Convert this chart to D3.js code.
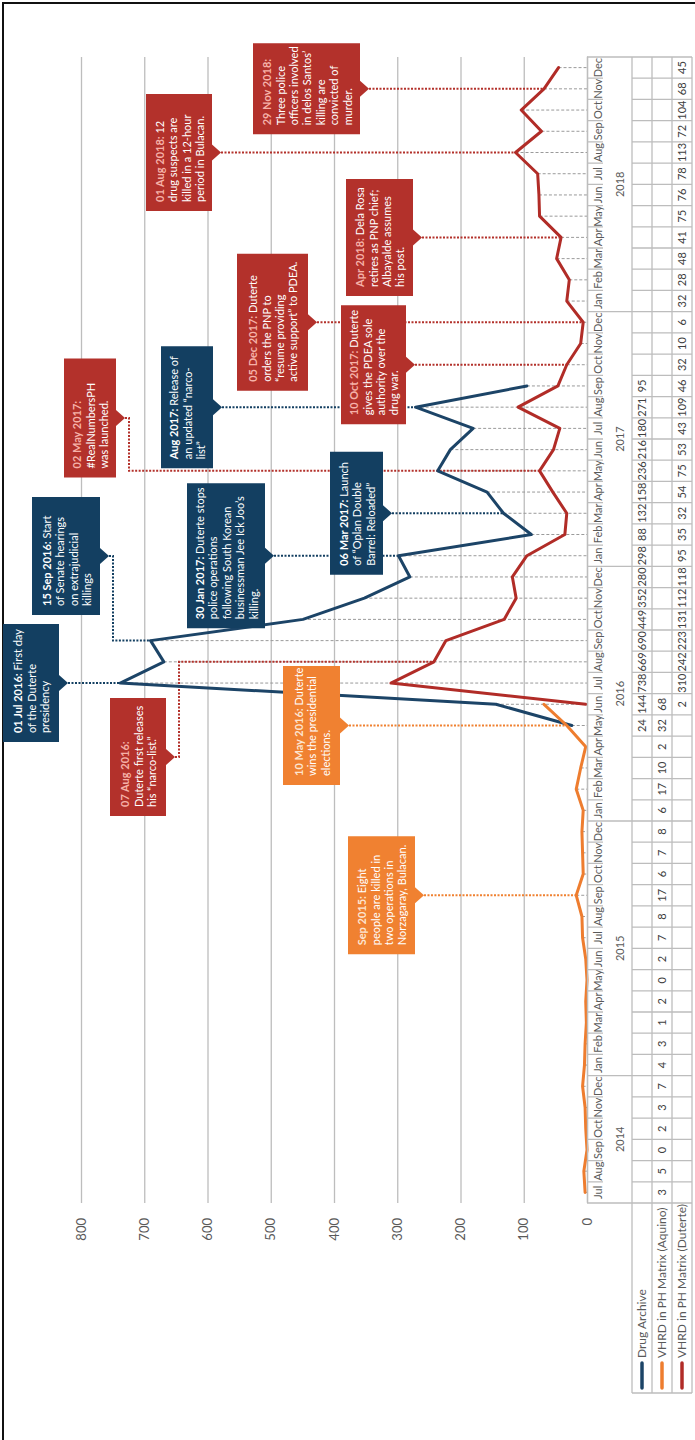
<!DOCTYPE html>
<html>
<head>
<meta charset="utf-8">
<script src="https://cdn.jsdelivr.net/npm/d3@7"></script>
<style>
  html, body { margin: 0; padding: 0; background: #fff; }
  svg { display: block; font-family: Lato, 'Open Sans', sans-serif; }
</style>
</head>
<body>
<div id="chart"></div>
<script>
'use strict';

// categories: Jul 2014 .. Dec 2018
const months = [
  'Jul 2014', 'Aug 2014', 'Sep 2014', 'Oct 2014', 'Nov 2014', 'Dec 2014',
  'Jan 2015', 'Feb 2015', 'Mar 2015', 'Apr 2015', 'May 2015', 'Jun 2015',
  'Jul 2015', 'Aug 2015', 'Sep 2015', 'Oct 2015', 'Nov 2015', 'Dec 2015',
  'Jan 2016', 'Feb 2016', 'Mar 2016', 'Apr 2016', 'May 2016', 'Jun 2016',
  'Jul 2016', 'Aug 2016', 'Sep 2016', 'Oct 2016', 'Nov 2016', 'Dec 2016',
  'Jan 2017', 'Feb 2017', 'Mar 2017', 'Apr 2017', 'May 2017', 'Jun 2017',
  'Jul 2017', 'Aug 2017', 'Sep 2017', 'Oct 2017', 'Nov 2017', 'Dec 2017',
  'Jan 2018', 'Feb 2018', 'Mar 2018', 'Apr 2018', 'May 2018', 'Jun 2018',
  'Jul 2018', 'Aug 2018', 'Sep 2018', 'Oct 2018', 'Nov 2018', 'Dec 2018'
];
const years = ['2014', '2015', '2016', '2017', '2018'];
const valueTicks = [0, 100, 200, 300, 400, 500, 600, 700, 800];

const drugArchiveFrom = 'May 2016';
const drugArchive = [24, 144, 738, 669, 690, 449, 352, 280, 298, 88, 132, 158, 236, 216, 180, 271, 95];

const aquinoFrom = 'Jul 2014';
const aquino = [3, 5, 0, 2, 3, 7, 4, 3, 1, 2, 0, 2, 7, 8, 17, 6, 7, 8, 6, 17, 10, 2, 32, 68];

const duterteFrom = 'Jun 2016';
const duterte = [2, 310, 242, 223, 131, 112, 118, 95, 35, 32, 54, 75, 53, 43, 109, 46, 32, 10, 6,
  32, 28, 48, 41, 75, 76, 78, 113, 72, 104, 68, 45];

const notes = [
  { month: 'Aug 2018', series: 'duterte', date: '01 Aug 2018:', top: 146, w: 117, h: 66,
    lines: ['01 Aug 2018: 12', 'drug suspects are', 'killed in a 12-hour', 'period in Bulacan.'] },
  { month: 'Nov 2018', series: 'duterte', date: '29 Nov 2018:', top: 253, w: 91, h: 107,
    lines: ['29 Nov 2018:', 'Three police', 'officers involved', 'in delos Santos’', 'killing are', 'convicted of', 'murder.'] },
  { month: 'Apr 2018', series: 'duterte', date: 'Apr 2018:', top: 346, w: 117, h: 67,
    lines: ['Apr 2018: Dela Rosa', 'retires as PNP chief;', 'Albayalde assumes', 'his post.'] },
  { month: 'Dec 2017', series: 'duterte', date: '05 Dec 2017:', top: 237, w: 137, h: 71,
    lines: ['05 Dec 2017: Duterte', 'orders the PNP to', '“resume providing', 'active support” to PDEA.'] },
  { month: 'Oct 2017', series: 'duterte', date: '10 Oct 2017:', top: 341, w: 119, h: 65,
    lines: ['10 Oct 2017: Duterte', 'gives the PDEA sole', 'authority over the', 'drug war.'] },
  { month: 'Aug 2017', series: 'drug', date: 'Aug 2017:', top: 161, w: 122, h: 52,
    lines: ['Aug 2017: Release of', 'an updated “narco-', 'list”'] },
  { month: 'May 2017', series: 'duterte', date: '02 May 2017:', top: 64, w: 119, h: 52, boxAt: 1022,
    lines: ['02 May 2017:', '#RealNumbersPH', 'was launched.'] },
  { month: 'Sep 2016', series: 'drug', date: '15 Sep 2016:', top: 32, w: 118, h: 68, boxAt: 884,
    lines: ['15 Sep 2016: Start', 'of Senate hearings', 'on extrajudicial', 'killings'] },
  { month: 'Jan 2017', series: 'drug', date: '30 Jan 2017:', top: 187, w: 145, h: 78,
    lines: ['30 Jan 2017: Duterte stops', 'police operations', 'following South Korean', 'businessman Jee Ick Joo’s', 'killing.'] },
  { month: 'Mar 2017', series: 'drug', date: '06 Mar 2017:', top: 330, w: 123, h: 53,
    lines: ['06 Mar 2017: Launch', 'of “Oplan Double', 'Barrel: Reloaded”'] },
  { month: 'Jul 2016', series: 'drug', date: '01 Jul 2016:', top: 3, w: 118, h: 56,
    lines: ['01 Jul 2016: First day', 'of the Duterte', 'presidency'] },
  { month: 'Aug 2016', series: 'duterte', date: '07 Aug 2016:', top: 110, w: 118, h: 56, boxAt: 683,
    lines: ['07 Aug 2016:', 'Duterte first releases', 'his “narco-list.”'] },
  { month: 'May 2016', series: 'aquino', date: '10 May 2016:', top: 283, w: 119, h: 57,
    lines: ['10 May 2016: Duterte', 'wins the presidential', 'elections.'] },
  { month: 'Sep 2015', series: 'aquino', date: 'Sep 2015:', top: 348, w: 118, h: 67,
    lines: ['Sep 2015: Eight', 'people are killed in', 'two operations in', 'Norzagaray, Bulacan.'] }
];

const W = 695;
const H = 1440;

const svg = d3.select('#chart')
  .append('svg')
  .attr('width', W)
  .attr('height', H)
  .attr('viewBox', [0, 0, W, H]);

// the chart is laid out landscape and turned a quarter turn to the left
const g = svg.append('g').attr('transform', `translate(0,${H}) rotate(-90)`);

const left = 237;
const right = 1383;
const x = d3.scaleBand().domain(months).range([left, right]);
const y = d3.scaleLinear().domain([0, 800]).range([587, 81]);
const bw = x.bandwidth();
const mx = (m) => x(m) + bw / 2;

const series = [
  { key: 'drug', name: 'Drug Archive', color: '#1c4467', box: '#133f61', dateColor: '#ffffff', from: drugArchiveFrom, values: drugArchive },
  { key: 'aquino', name: 'VHRD in PH Matrix (Aquino)', color: '#ee7d2f', box: '#f08131', dateColor: '#fde5d0', from: aquinoFrom, values: aquino },
  { key: 'duterte', name: 'VHRD in PH Matrix (Duterte)', color: '#b12c27', box: '#b3312b', dateColor: '#f6b1a8', from: duterteFrom, values: duterte }
];
series.forEach((s) => {
  const i0 = months.indexOf(s.from);
  s.points = s.values.map((v, i) => ({ month: months[i0 + i], value: v }));
  s.byMonth = new Map(s.points.map((p) => [p.month, p.value]));
});
const seriesByKey = new Map(series.map((s) => [s.key, s]));

// frame
g.append('path')
  .attr('d', `M-10,3H1437V${H}`)
  .attr('fill', 'none')
  .attr('stroke', '#111')
  .attr('stroke-width', 2);

// value axis + gridlines
const yAxis = g.append('g')
  .attr('transform', `translate(${left},0)`)
  .call(d3.axisLeft(y).tickValues(valueTicks).tickSize(-(right - left)).tickPadding(15));
yAxis.select('.domain').remove();
yAxis.selectAll('line')
  .attr('stroke', '#bdbdbd')
  .attr('stroke-width', 1.3);
yAxis.selectAll('text')
  .attr('fill', '#595959')
  .style('font-size', '13px')
  .style('font-family', 'Lato, sans-serif');

// drop lines
const maxByMonth = months.map((m) => {
  const vals = series.map((s) => s.byMonth.get(m)).filter((v) => v != null);
  return { month: m, value: d3.max(vals) };
});
g.append('g')
  .selectAll('line')
  .data(maxByMonth)
  .join('line')
  .attr('x1', (d) => mx(d.month))
  .attr('x2', (d) => mx(d.month))
  .attr('y1', (d) => y(d.value))
  .attr('y2', y(0))
  .attr('stroke', '#9a9a9a')
  .attr('stroke-width', 1)
  .attr('stroke-dasharray', '3,2');

// annotation leaders
const leaderPath = (n) => {
  const s = seriesByKey.get(n.series);
  const px = mx(n.month);
  const py = y(s.byMonth.get(n.month));
  const ax = n.boxAt ?? px;
  const tip = n.top + n.h + 9;
  if (n.boxAt == null) {
    return `M${px},${tip}V${py}`;
  }
  return `M${ax},${tip}V${tip + 4}H${px}V${py}`;
};
g.append('g')
  .selectAll('path')
  .data(notes)
  .join('path')
  .attr('d', leaderPath)
  .attr('fill', 'none')
  .attr('stroke', (d) => seriesByKey.get(d.series).box)
  .attr('stroke-width', 2)
  .attr('stroke-dasharray', '2,1.5');

// series lines
const line = d3.line()
  .x((d) => mx(d.month))
  .y((d) => y(d.value));

g.append('g')
  .selectAll('path')
  .data(series)
  .join('path')
  .attr('d', (d) => line(d.points))
  .attr('fill', 'none')
  .attr('stroke', (d) => d.color)
  .attr('stroke-width', 3)
  .attr('stroke-linejoin', 'round')
  .attr('stroke-linecap', 'round');

// annotation boxes
const boxPath = (n) => {
  const ax = n.boxAt ?? mx(n.month);
  const l = ax - n.w / 2;
  const r = ax + n.w / 2;
  const b = n.top + n.h;
  return `M${l},${n.top}H${r}V${b}H${ax + 8}L${ax},${b + 9}L${ax - 8},${b}H${l}Z`;
};
const noteG = g.append('g')
  .selectAll('g')
  .data(notes)
  .join('g');

noteG.append('path')
  .attr('d', boxPath)
  .attr('fill', (d) => seriesByKey.get(d.series).box);

noteG.each(function (n) {
  const s = seriesByKey.get(n.series);
  const ax = n.boxAt ?? mx(n.month);
  const lh = 13.4;
  const base = n.top + (n.h - n.lines.length * lh) / 2 + 11.5;
  const t = d3.select(this).append('text')
    .attr('fill', '#ffffff')
    .style('font-size', '11px');
  n.lines.forEach((ln, i) => {
    const tx = ax - n.w / 2 + 9;
    const ty = base + i * lh;
    if (i === 0) {
      t.append('tspan')
        .attr('x', tx)
        .attr('y', ty)
        .attr('fill', s.dateColor)
        .attr('font-weight', 700)
        .text(n.date);
      t.append('tspan').text(ln.slice(n.date.length));
    } else {
      t.append('tspan').attr('x', tx).attr('y', ty).text(ln);
    }
  });
});

// category axis and data table
const table = g.append('g');
const gridColor = '#bdbdbd';
const rowTop = 632;
const rows = [632, 652, 672, 692];

const monthAxis = table.append('g')
  .attr('transform', `translate(0,${y(0)})`)
  .call(d3.axisBottom(x).tickSize(0).tickFormat((d) => d.slice(0, 3)));
monthAxis.select('.domain')
  .attr('stroke', gridColor)
  .attr('stroke-width', 1.3);
monthAxis.selectAll('text')
  .attr('y', 15)
  .attr('dy', 0)
  .attr('fill', '#595959')
  .style('font-size', '11px')
  .style('font-family', 'Lato, sans-serif');

// year labels
table.append('g')
  .selectAll('text')
  .data(years)
  .join('text')
  .attr('x', (yr) => {
    const ms = months.filter((m) => m.endsWith(yr));
    return (x(ms[0]) + x(ms[ms.length - 1]) + bw) / 2;
  })
  .attr('y', 624)
  .attr('text-anchor', 'middle')
  .attr('fill', '#595959')
  .style('font-size', '11px')
  .text((d) => d);

// separators between months
const bounds = d3.range(months.length + 1).map((i) => ({
  x: left + i * bw,
  full: i === 0 || i === months.length || months[i].startsWith('Jan')
}));
table.append('g')
  .selectAll('path')
  .data(bounds)
  .join('path')
  .attr('d', (d) => d.full
    ? `M${d.x},${y(0)}V${rows[3]}`
    : `M${d.x},${y(0)}V603M${d.x},${rowTop}V${rows[3]}`)
  .attr('stroke', gridColor)
  .attr('stroke-width', 1.3);

table.append('g')
  .selectAll('line')
  .data(rows)
  .join('line')
  .attr('x1', 47)
  .attr('x2', right)
  .attr('y1', (d) => d)
  .attr('y2', (d) => d)
  .attr('stroke', gridColor)
  .attr('stroke-width', 1.3);

table.append('line')
  .attr('x1', 47)
  .attr('x2', 47)
  .attr('y1', rowTop)
  .attr('y2', rows[3])
  .attr('stroke', gridColor)
  .attr('stroke-width', 1.3);

// row headers with legend keys
const rowG = table.append('g')
  .selectAll('g')
  .data(series)
  .join('g')
  .attr('transform', (d, i) => `translate(0,${rows[i] + 10})`);

rowG.append('line')
  .attr('x1', 52)
  .attr('x2', 77)
  .attr('stroke', (d) => d.color)
  .attr('stroke-width', 3.5)
  .attr('stroke-linecap', 'round');

rowG.append('text')
  .attr('x', 82)
  .attr('y', 4)
  .attr('fill', '#595959')
  .style('font-size', '12px')
  .text((d) => d.name);

// cell values
rowG.each(function (s) {
  d3.select(this).append('g')
    .selectAll('text')
    .data(s.points)
    .join('text')
    .attr('x', (d) => mx(d.month))
    .attr('y', 4)
    .attr('text-anchor', 'middle')
    .attr('fill', '#404040')
    .style('font-size', '11px')
    .text((d) => d.value);
});
</script>
</body>
</html>
